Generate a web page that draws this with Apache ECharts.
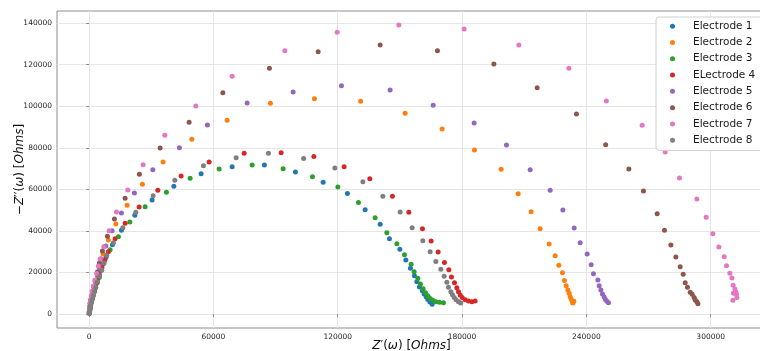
<!DOCTYPE html>
<html>
<head>
<meta charset="utf-8">
<script src="https://cdn.jsdelivr.net/npm/echarts@6/dist/echarts.min.js"></script>
<style>
  html, body { margin: 0; padding: 0; background: #ffffff; }
  #chart { width: 760px; height: 351px; }
</style>
</head>
<body>
<div id="chart"></div>
<script>
// Nyquist plots: [Z' (Ohms), -Z'' (Ohms)] for each electrode
const seriesNames = ['Electrode 1', 'Electrode 2', 'Electrode 3', 'ELectrode 4',
                     'Electrode 5', 'Electrode 6', 'Electrode 7', 'Electrode 8'];

const electrode1 = [[100,480],[200,1200],[300,2070],[430,3130],[680,4330],[1010,5680],[1400,7220],[1880,8900],[2410,10830],[3040,12990],[3770,15400],[4590,18040],[5550,20930],[6760,24060],[8210,27420],[11250,33340],[15590,40270],[22060,47490],[30410,54850],[40890,61440],[54060,67500],[69030,70870],[84620,71680],[99580,68320],[112950,63360],[124680,57970],[133230,50180],[140470,43160],[144960,36230],[149980,31130],[152870,25980],[155090,21990],[157020,18430],[158180,15540],[159440,12990],[160880,11210],[161710,9620],[162670,8320],[163490,7070],[164460,5770],[165570,4670]];

const electrode2 = [[100,480],[200,1250],[290,2210],[430,3370],[680,4720],[1010,6250],[1400,7990],[1880,9910],[2460,12120],[3140,14580],[4060,18280],[5260,23330],[6760,28870],[9320,35600],[12890,43300],[18340,52300],[25730,62400],[35720,73130],[49570,84050],[66610,93190],[87510,101370],[108750,103580],[131050,102330],[152530,96560],[170390,89000],[185980,78900],[198870,69620],[207080,57880],[213350,49220],[217700,41040],[222040,33680],[224940,28050],[226720,23430],[228460,19870],[229430,16210],[230250,13620],[231070,11550],[231700,9960],[232180,8320],[232660,7220],[233140,6110],[233480,5290],[233970,6110]];

const electrode3 = [[100,480],[200,1160],[290,2020],[430,3080],[680,4280],[1010,5630],[1400,7120],[1880,8800],[2460,10680],[3140,12750],[3910,15010],[4880,17560],[5990,21170],[7240,25500],[10140,30940],[14140,37190],[19650,44260],[27030,51620],[37310,58550],[48750,65290],[62750,69760],[78680,71680],[93640,69900],[107790,66060],[120050,61100],[129990,53640],[138050,46330],[143700,39110],[148530,33820],[152200,28530],[155430,23910],[156880,20350],[158660,17180],[159920,14430],[161220,12170],[162330,10250],[163490,8800],[164600,7550],[165900,6590],[167350,5920],[169090,5630],[171020,5440]];

const electrode4 = [[100,480],[200,1200],[290,2120],[430,3220],[680,4480],[1010,5870],[1400,7460],[1880,9240],[2460,11260],[3140,13520],[3960,16020],[4970,18910],[6180,22370],[7630,26080],[9320,29970],[12550,36230],[17380,43640],[24140,51480],[33160,59510],[44410,66390],[57920,73130],[74820,77310],[92680,77600],[108460,75770],[123090,70870],[135490,65090],[146400,56630],[154320,48930],[160880,41040],[165080,35120],[168460,29830],[171500,24870],[173630,21310],[174880,17800],[176330,15060],[177490,12650],[178260,10730],[179080,9140],[180050,8030],[181500,6880],[183090,6250],[184730,5920],[186320,6250]];

const electrode5 = [[100,480],[200,1300],[290,2310],[390,3460],[630,4860],[920,6500],[1300,8370],[1790,10490],[2410,12890],[3190,15590],[4150,18670],[4830,22370],[5650,26610],[8060,32720],[11100,40080],[15590,48590],[21870,58210],[30750,69470],[43590,80010],[57100,90930],[76270,101510],[98470,106800],[121790,109840],[145290,107770],[166050,100410],[185840,91890],[201430,81310],[212870,69420],[222530,59510],[228660,50030],[234110,41380],[237010,34300],[240390,28870],[242320,23720],[243430,19390],[245550,16360],[246180,13620],[247000,11550],[247770,9620],[248590,8180],[249220,7070],[249890,6110],[250670,5440]];

const electrode6 = [[100,480],[150,1350],[200,2410],[290,3660],[480,5100],[770,6740],[1160,8610],[1640,10780],[2270,13230],[3040,16020],[3960,20210],[4970,24540],[6420,30310],[8830,37380],[12210,45710],[17380,55660],[24280,67210],[34270,79860],[48270,92230],[64540,106470],[87030,118210],[110540,126190],[140470,129420],[168130,126670],[195350,120280],[216250,108870],[235220,96220],[249320,81400],[260510,69760],[267560,59180],[274170,48250],[277700,40270],[280790,33200],[283200,27420],[285280,22760],[286720,19100],[287690,15060],[288800,12850],[290100,10440],[291070,9480],[292030,8030],[292520,6740],[293340,5920],[293820,4960]];

const electrode7 = [[50,480],[100,1350],[150,2410],[240,3700],[430,5200],[680,6880],[1010,8800],[1450,10970],[2030,13470],[2750,16310],[3670,19530],[4440,23090],[5310,26460],[7100,32380],[9650,40080],[13180,49070],[18680,59660],[26070,71830],[36540,85970],[51500,100070],[69030,114360],[94470,126670],[119710,135530],[149490,139040],[181010,137110],[207420,129420],[231550,118210],[249650,102470],[266930,90780],[278040,77940],[284940,65430],[293340,55330],[297830,46520],[301060,38630],[303960,32230],[306520,27570],[307630,23240],[309270,19580],[310230,17320],[310860,13810],[311680,12030],[312160,10580],[312450,9480],[311000,9960],[312650,8030],[310720,6590]];

const electrode8 = [[150,300],[200,480],[250,1160],[290,1970],[480,2980],[720,4140],[1060,5480],[1450,7020],[1930,8760],[2510,10730],[3190,12940],[4010,15400],[4970,18140],[6130,21170],[7240,24540],[8540,28240],[11730,34300],[16270,41520],[22540,48930],[30890,56910],[41370,64320],[55170,71350],[70960,75200],[86550,77360],[103540,74810],[118600,70240],[132120,63650],[141770,56630],[150120,49070],[155910,41520],[161080,35270],[164600,29970],[167350,25350],[169770,21510],[171360,18140],[172660,15250],[173430,12850],[174590,10730],[175370,9290],[176190,8030],[177150,6880],[178260,5920],[179370,5290]];

const xTicks = [0, 60000, 120000, 180000, 240000, 300000];
const yTicks = [0, 20000, 40000, 60000, 80000, 100000, 120000, 140000];

const allSeries = [electrode1, electrode2, electrode3, electrode4,
                   electrode5, electrode6, electrode7, electrode8];
const palette = ['#1f77b4', '#ff7f0e', '#2ca02c', '#d62728',
                 '#9467bd', '#8c564b', '#e377c2', '#7f7f7f'];

const tickFont = {
  fontFamily: 'DejaVu Sans', fontSize: 7.5, color: '#262626',
  formatter: (v) => String(v)
};
const gridLine = { show: true, lineStyle: { color: '#e6e6e6', width: 1 } };
const titleStyle = {
  fontFamily: 'DejaVu Sans', fontSize: 12, color: '#111',
  rich: { i: { fontFamily: 'DejaVu Sans', fontStyle: 'italic', fontSize: 12, color: '#111' } }
};

const chart = echarts.init(document.getElementById('chart'), null, { renderer: 'canvas' });

chart.setOption({
  animation: false,
  color: palette,
  grid: {
    left: 57, right: -6, top: 11, bottom: 23,
    outerBoundsMode: 'none',
    containLabel: false,
    show: true, borderColor: '#8c8c8c', borderWidth: 1, backgroundColor: 'transparent'
  },
  legend: {
    orient: 'vertical',
    left: 656, top: 17,
    padding: [1, 30, 2, 14],
    itemWidth: 31, itemHeight: 5, itemGap: 0,
    icon: 'circle',
    backgroundColor: 'rgba(255,255,255,0.85)',
    borderColor: '#d0d0d0', borderWidth: 1, borderRadius: 3,
    textStyle: { fontFamily: 'DejaVu Sans', fontSize: 10.5, color: '#1a1a1a', lineHeight: 16.3 },
    data: seriesNames
  },
  xAxis: {
    type: 'value',
    min: -15500, max: 326700,
    name: '{i|Z}′({i|ω}) [{i|Ohms}]',
    nameLocation: 'middle', nameGap: 12,
    nameMoveOverlap: false,
    nameTextStyle: titleStyle,
    axisLine: { show: false },
    axisTick: { show: true, customValues: xTicks, length: 3, lineStyle: { color: '#8c8c8c' } },
    axisLabel: Object.assign({ customValues: xTicks, margin: 5 }, tickFont),
    splitLine: gridLine
  },
  yAxis: {
    type: 'value',
    min: -6700, max: 145800,
    name: '−{i|Z}′′({i|ω}) [{i|Ohms}]',
    nameLocation: 'middle', nameGap: 31, nameRotate: 90,
    nameMoveOverlap: false,
    nameTextStyle: titleStyle,
    axisLine: { show: false },
    axisTick: { show: true, customValues: yTicks, length: 3, lineStyle: { color: '#8c8c8c' } },
    axisLabel: Object.assign({ customValues: yTicks, margin: 5 }, tickFont),
    splitLine: gridLine
  },
  series: allSeries.map((data, i) => ({
    name: seriesNames[i],
    type: 'scatter',
    data: data,
    symbol: 'circle',
    symbolSize: 5,
    itemStyle: { color: palette[i], opacity: 1 }
  }))
});
</script>
</body>
</html>
